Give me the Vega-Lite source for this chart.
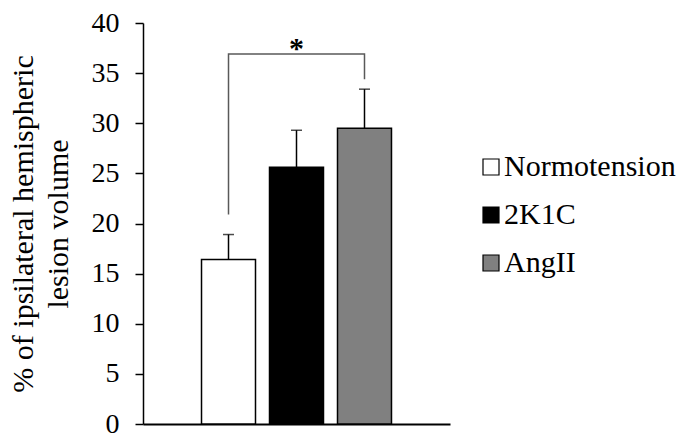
{
  "$schema": "https://vega.github.io/schema/vega-lite/v6.json",
  "width": 307,
  "height": 401,
  "autosize": "none",
  "padding": {"left": 143, "top": 23, "right": 241, "bottom": 11},
  "background": "white",
  "config": {
    "view": {"stroke": null},
    "font": "'Liberation Serif', 'Times New Roman', serif",
    "text": {"font": "'Liberation Serif', 'Times New Roman', serif"},
    "axis": {"grid": false, "labelFont": "'Liberation Serif', 'Times New Roman', serif", "titleFont": "'Liberation Serif', 'Times New Roman', serif", "labelColor": "black", "titleColor": "black"},
    "legend": {"labelFont": "'Liberation Serif', 'Times New Roman', serif", "labelLimit": 300}
  },
  "datasets": {
    "bars": [
      {"cat": "A", "group": "Normotension", "value": 16.4, "upper": 18.9},
      {"cat": "A", "group": "2K1C", "value": 25.6, "upper": 29.3},
      {"cat": "A", "group": "AngII", "value": 29.5, "upper": 33.4}
    ],
    "bracket": [
      {"cat": "A", "group": "Normotension", "y": 20.9, "order": 1},
      {"cat": "A", "group": "Normotension", "y": 36.9, "order": 2},
      {"cat": "A", "group": "AngII", "y": 36.9, "order": 3},
      {"cat": "A", "group": "AngII", "y": 34.4, "order": 4}
    ],
    "star": [
      {"cat": "A", "group": "2K1C", "y": 37.0, "label": "*"}
    ]
  },
  "layer": [
    {
      "data": {"name": "bars"},
      "mark": {"type": "bar", "stroke": "black", "strokeWidth": 1.5},
      "encoding": {
        "x": {"field": "cat", "type": "nominal",
              "scale": {"paddingInner": 0, "paddingOuter": 0.2525},
              "axis": {"labels": false, "ticks": false, "title": null, "domainColor": "black", "domainWidth": 2}},
        "xOffset": {"field": "group", "type": "nominal",
                    "sort": ["Normotension", "2K1C", "AngII"],
                    "scale": {"paddingInner": 0.206, "paddingOuter": 0.103}},
        "y": {"field": "value", "type": "quantitative",
              "scale": {"domain": [0, 40], "nice": false},
              "axis": {"values": [0, 5, 10, 15, 20, 25, 30, 35, 40],
                       "title": ["% of ipsilateral hemispheric", "lesion volume"],
                       "titleFontSize": 30, "titleFontWeight": "normal", "titleLineHeight": 35,
                       "titlePadding": 18,
                       "labelFontSize": 28, "labelPadding": 16,
                       "tickSize": 8, "tickWidth": 1.5, "tickColor": "black",
                       "domainColor": "black", "domainWidth": 1.5}},
        "fill": {"field": "group", "type": "nominal",
                 "scale": {"domain": ["Normotension", "2K1C", "AngII"], "range": ["#ffffff", "#000000", "#808080"]},
                 "legend": {"title": null, "orient": "none", "legendX": 333, "legendY": 129,
                            "symbolType": "square", "symbolSize": 256, "symbolStrokeColor": "black", "symbolStrokeWidth": 1.2,
                            "labelFontSize": 30, "labelColor": "black", "labelOffset": -2, "rowPadding": 18, "padding": 0}}
      }
    },
    {
      "data": {"name": "bars"},
      "mark": {"type": "rule", "color": "black", "strokeWidth": 1.5},
      "encoding": {
        "x": {"field": "cat", "type": "nominal"},
        "xOffset": {"field": "group", "type": "nominal", "sort": ["Normotension", "2K1C", "AngII"]},
        "y": {"field": "value", "type": "quantitative"},
        "y2": {"field": "upper"}
      }
    },
    {
      "data": {"name": "bars"},
      "mark": {"type": "tick", "color": "black", "thickness": 1.5, "size": 11, "orient": "horizontal"},
      "encoding": {
        "x": {"field": "cat", "type": "nominal"},
        "xOffset": {"field": "group", "type": "nominal", "sort": ["Normotension", "2K1C", "AngII"]},
        "y": {"field": "upper", "type": "quantitative"}
      }
    },
    {
      "data": {"name": "bracket"},
      "mark": {"type": "line", "color": "#595959", "strokeWidth": 1.5, "interpolate": "linear"},
      "encoding": {
        "x": {"field": "cat", "type": "nominal"},
        "xOffset": {"field": "group", "type": "nominal", "sort": ["Normotension", "2K1C", "AngII"]},
        "y": {"field": "y", "type": "quantitative"},
        "order": {"field": "order", "type": "quantitative"}
      }
    },
    {
      "data": {"name": "star"},
      "mark": {"type": "text", "fontSize": 30, "fontWeight": "bold", "color": "black", "baseline": "alphabetic", "dy": 5},
      "encoding": {
        "x": {"field": "cat", "type": "nominal"},
        "xOffset": {"field": "group", "type": "nominal", "sort": ["Normotension", "2K1C", "AngII"]},
        "y": {"field": "y", "type": "quantitative"},
        "text": {"field": "label"}
      }
    }
  ]
}
